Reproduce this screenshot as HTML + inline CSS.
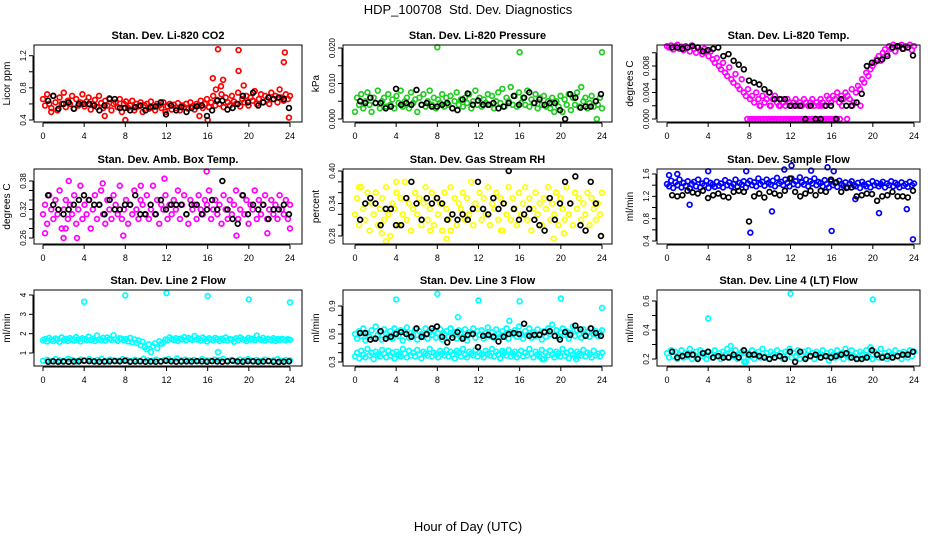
<!DOCTYPE html>
<html><head><meta charset="utf-8">
<style>
html,body{margin:0;padding:0;background:#fff;}
svg{display:block;font-family:"Liberation Sans",Arial,sans-serif;}
</style></head>
<body>
<svg id="chart" width="936" height="540" viewBox="0 0 936 540">
<text x="468" y="14" text-anchor="middle" font-size="13">HDP_100708&#160; Std. Dev. Diagnostics</text>
<text x="468" y="531" text-anchor="middle" font-size="13">Hour of Day (UTC)</text>
</svg>
<script>
// ---- data ----
const xTicks = [0,4,8,12,16,20,24];
const co2Color = [0.66,0.58,0.72,0.6,0.55,0.7,0.62,0.52,0.68,0.6,0.74,0.56,0.64,0.6,0.7,0.54,0.66,0.58,0.62,0.72,0.57,0.63,0.68,0.53,0.6,0.65,0.56,0.7,0.61,0.55,0.64,0.58,0.67,0.52,0.6,0.62,0.56,0.66,0.5,0.6,0.63,0.55,0.58,0.64,0.52,0.6,0.57,0.62,0.5,0.58,0.6,0.54,0.63,0.56,0.52,0.6,0.58,0.55,0.62,0.5,0.57,0.6,0.53,0.59,0.55,0.61,0.52,0.58,0.56,0.6,0.54,0.62,0.57,0.53,0.6,0.58,0.64,0.55,0.6,0.66,0.56,0.62,0.7,0.58,0.65,0.6,0.72,0.56,0.68,0.62,0.58,0.7,0.63,0.6,0.74,0.57,0.66,0.62,0.7,0.58,0.68,0.64,0.76,0.6,0.66,0.72,0.62,0.7,0.65,0.6,0.74,0.66,0.7,0.62,0.78,0.68,0.64,0.72,0.66,0.7];
const co2Out = [[16.5,0.92],[16.8,0.78],[17,1.28],[17.5,0.9],[17.3,0.82],[19,1.27],[19,1.01],[19.5,0.83],[23.5,1.24],[23.4,1.12],[23.9,0.43],[16,0.4],[8,0.4],[6,0.45],[15.2,0.45],[0.8,0.5]];
const co2Black = [0.64,0.7,0.54,0.6,0.62,0.54,0.6,0.6,0.6,0.58,0.52,0.58,0.66,0.66,0.55,0.55,0.52,0.56,0.58,0.52,0.56,0.57,0.62,0.47,0.58,0.52,0.56,0.5,0.55,0.57,0.58,0.45,0.52,0.64,0.64,0.53,0.55,0.6,0.7,0.62,0.74,0.58,0.62,0.68,0.66,0.68,0.66,0.55];

const presColor = [0.002,0.006,0.004,0.007,0.003,0.005,0.0075,0.004,0.002,0.006,0.0045,0.008,0.003,0.005,0.006,0.0035,0.007,0.004,0.0055,0.003,0.0065,0.0045,0.008,0.0035,0.005,0.006,0.003,0.0075,0.0045,0.0055,0.002,0.006,0.004,0.007,0.0035,0.005,0.008,0.004,0.006,0.003,0.0055,0.0045,0.007,0.0035,0.006,0.004,0.0065,0.003,0.005,0.0075,0.004,0.0055,0.0035,0.006,0.0045,0.007,0.003,0.005,0.008,0.004,0.006,0.0035,0.0055,0.0045,0.007,0.004,0.0065,0.003,0.005,0.0075,0.0045,0.0085,0.0035,0.006,0.005,0.009,0.004,0.0065,0.0035,0.0075,0.0045,0.006,0.004,0.008,0.0035,0.0055,0.0045,0.007,0.003,0.006,0.004,0.0065,0.0035,0.005,0.003,0.006,0.002,0.005,0.0035,0.0065,0.002,0.0055,0.004,0.007,0.0025,0.006,0.004,0.0075,0.0035,0.009,0.005,0.006,0.003,0.0045,0.0065,0.0035,0.005,0.004,0.006,0.003];
const presOut = [[8,0.0202],[16,0.0188],[24,0.0188],[23.5,0]];
const presBlack = [0.005,0.0045,0.006,0.0045,0.0045,0.003,0.0035,0.0085,0.004,0.0045,0.004,0.0082,0.004,0.0045,0.0035,0.0035,0.004,0.0045,0.003,0.0025,0.0055,0.0072,0.004,0.0052,0.004,0.004,0.0045,0.003,0.0035,0.0045,0.0065,0.004,0.006,0.0075,0.0045,0.0055,0.004,0.0045,0.0045,0.0025,0,0.007,0.006,0.0032,0.0035,0.0035,0.005,0.007];

const tempColor = [0.011,0.0108,0.0111,0.0105,0.011,0.0112,0.0106,0.0109,0.0104,0.011,0.0108,0.0102,0.0111,0.0106,0.01,0.0108,0.0104,0.0098,0.0106,0.0102,
0.0095,0.0102,0.009,0.0085,0.0092,0.008,0.0075,0.0085,0.007,0.0065,0.0078,0.006,0.0055,0.0068,0.005,0.0045,0.006,0.004,0.0035,0.0045,
0.003,0.0035,0.0025,0.004,0.003,0.002,0.0035,0.0025,0.003,0.004,0.002,0.003,0.0035,0.0025,0.002,0.003,0.0025,0.002,0.003,0.0025,
0.002,0.0025,0.003,0.002,0.0025,0.002,0.003,0.0025,0.002,0.0025,0.003,0.002,0.0025,0.002,0.003,0.0025,0.002,0.0035,0.003,0.0025,
0.0035,0.003,0.004,0.0025,0.0035,0.003,0.004,0.0035,0.003,0.0045,0.0025,0.004,0.005,0.0045,0.006,0.0055,0.007,0.0065,0.0075,0.008,
0.0085,0.009,0.0095,0.0088,0.01,0.0105,0.0098,0.011,0.0106,0.0112,0.0102,0.0108,0.011,0.0112,0.0106,0.011,0.0108,0.0112,0.0104,0.011];
const tempOut = [[7.8,0],[8.1,0],[8.4,0],[8.7,0],[9,0],[9.3,0],[9.6,0],[9.9,0],[10.2,0],[10.5,0],[10.8,0],[11.1,0],[11.4,0],[11.7,0],[12,0],[12.3,0],[12.6,0],[12.9,0],[13.2,0],[13.5,0],[13.8,0],[14.1,0],[14.4,0],[14.7,0],[15,0],[15.3,0],[15.6,0],[15.9,0],[16.2,0],[16.5,0],[16.8,0],[17.5,0],[9,0.002],[10,0.002],[11,0.002],[13,0.002],[14,0.002],[15,0.002],[17,0.002],[18,0.002],[18.8,0.002]];
const tempBlack = [0.0108,0.0108,0.0106,0.0108,0.011,0.0108,0.0102,0.0104,0.0106,0.0108,0.0095,0.0098,0.0088,0.0082,0.0075,0.0058,0.0055,0.0052,0.0045,0.004,0.003,0.003,0.003,0.002,0.002,0.002,0,0.002,0,0,0.002,0.002,0,0.003,0.002,0.002,0.0025,0.0038,0.008,0.0085,0.0088,0.009,0.0095,0.0108,0.011,0.0106,0.0108,0.0096];

const ambColor = [0.31,0.33,0.29,0.35,0.32,0.3,0.34,0.31,0.36,0.28,0.32,0.34,0.3,0.33,0.31,0.35,0.29,0.32,0.37,0.3,0.33,0.31,0.34,0.28,0.32,0.35,0.3,0.33,0.36,0.31,0.29,0.34,0.32,0.3,0.35,0.33,0.31,0.37,0.3,0.32,0.34,0.29,0.33,0.31,0.36,0.32,0.3,0.34,0.33,0.31,0.35,0.3,0.32,0.37,0.31,0.34,0.29,0.33,0.32,0.35,0.3,0.33,0.31,0.34,0.32,0.36,0.3,0.33,0.35,0.31,0.29,0.34,0.32,0.33,0.3,0.35,0.32,0.31,0.34,0.33,0.36,0.3,0.32,0.34,0.31,0.33,0.29,0.35,0.32,0.3,0.34,0.31,0.33,0.36,0.3,0.32,0.35,0.31,0.34,0.29,0.33,0.32,0.36,0.3,0.34,0.31,0.33,0.35,0.3,0.32,0.34,0.31,0.33,0.3,0.35,0.32,0.31,0.34,0.3,0.33];
const ambOut = [[0.2,0.27],[2,0.26],[2.5,0.38],[3.3,0.26],[5.8,0.375],[9.5,0.37],[11.8,0.385],[15.9,0.4],[18.8,0.265],[21.8,0.27],[24,0.28],[7.8,0.265],[2.2,0.28]];
const ambBlack = [0.35,0.33,0.32,0.31,0.32,0.33,0.34,0.35,0.34,0.33,0.33,0.31,0.34,0.32,0.32,0.33,0.33,0.35,0.31,0.31,0.33,0.31,0.34,0.32,0.33,0.33,0.33,0.31,0.33,0.33,0.31,0.32,0.34,0.32,0.38,0.32,0.3,0.29,0.35,0.31,0.33,0.32,0.33,0.3,0.32,0.32,0.33,0.31];

const rhColor = [0.32,0.35,0.3,0.37,0.33,0.31,0.36,0.29,0.34,0.32,0.36,0.3,0.33,0.35,0.31,0.37,0.32,0.28,0.34,0.33,0.36,0.3,0.35,0.32,0.38,0.31,0.34,0.29,0.33,0.36,0.32,0.35,0.3,0.34,0.37,0.31,0.33,0.36,0.3,0.35,0.32,0.34,0.29,0.36,0.33,0.31,0.37,0.32,0.35,0.3,0.34,0.33,0.36,0.31,0.35,0.32,0.38,0.3,0.34,0.33,0.36,0.31,0.35,0.32,0.37,0.3,0.34,0.33,0.36,0.31,0.35,0.29,0.34,0.32,0.37,0.31,0.35,0.33,0.3,0.36,0.32,0.34,0.37,0.31,0.35,0.29,0.33,0.36,0.32,0.34,0.3,0.35,0.33,0.37,0.31,0.34,0.32,0.36,0.3,0.35,0.33,0.31,0.37,0.32,0.34,0.3,0.36,0.33,0.35,0.31,0.34,0.32,0.36,0.3,0.35,0.33,0.31,0.34,0.32,0.36];
const rhOut = [[0.4,0.37],[2.6,0.285],[3,0.27],[4,0.38],[7.3,0.29],[8.9,0.275],[9.3,0.29],[14.2,0.29],[19.3,0.275],[23.9,0.28],[20.3,0.285]];
const rhBlack = [0.31,0.34,0.35,0.34,0.3,0.33,0.33,0.3,0.3,0.35,0.38,0.34,0.31,0.35,0.34,0.35,0.34,0.31,0.32,0.31,0.32,0.31,0.33,0.38,0.33,0.32,0.35,0.33,0.34,0.4,0.33,0.31,0.32,0.33,0.31,0.3,0.29,0.35,0.31,0.34,0.38,0.34,0.39,0.3,0.29,0.38,0.34,0.28];

const flowColor = [1.42,1.38,1.48,1.35,1.45,1.4,1.5,1.36,1.44,1.39,1.47,1.34,1.42,1.46,1.38,1.5,1.36,1.43,1.4,1.48,1.35,1.44,1.41,1.37,1.46,1.39,1.43,1.36,1.49,1.4,1.45,1.38,1.42,1.5,1.37,1.44,1.41,1.47,1.36,1.43,1.48,1.4,1.45,1.38,1.52,1.42,1.46,1.39,1.5,1.44,1.41,1.48,1.38,1.53,1.43,1.46,1.4,1.5,1.44,1.38,1.52,1.42,1.47,1.4,1.54,1.45,1.41,1.5,1.38,1.47,1.43,1.52,1.4,1.46,1.44,1.38,1.49,1.42,1.36,1.47,1.4,1.44,1.37,1.48,1.42,1.39,1.45,1.36,1.43,1.47,1.4,1.38,1.44,1.35,1.46,1.41,1.38,1.43,1.36,1.47,1.4,1.44,1.38,1.42,1.46,1.36,1.43,1.4,1.47,1.38,1.44,1.41,1.36,1.45,1.39,1.42,1.37,1.46,1.4,1.43];
const flowOut = [[0.2,1.58],[1,1.6],[2.2,1.05],[4,1.65],[7.7,1.65],[8.1,0.55],[10.2,0.93],[11.4,1.68],[12.1,1.75],[15.6,1.72],[16,0.58],[16.2,1.65],[20.6,0.9],[23.3,0.97],[23.9,0.43],[18.3,1.15],[14,1.66]];
const flowBlack = [1.22,1.2,1.22,1.3,1.27,1.25,1.3,1.17,1.22,1.25,1.2,1.18,1.28,1.3,1.28,0.75,1.2,1.25,1.18,1.28,1.25,1.22,1.3,1.52,1.28,1.2,1.25,1.3,1.22,1.3,1.28,1.5,1.45,1.28,1.35,1.36,1.2,1.22,1.25,1.24,1.12,1.2,1.22,1.28,1.2,1.2,1.18,1.3];

const l2Upper = [1.65,1.72,1.6,1.78,1.68,1.62,1.75,1.7,1.58,1.8,1.66,1.73,1.62,1.77,1.69,1.64,1.82,1.7,1.6,1.76,1.72,1.66,1.85,1.68,1.74,1.62,1.9,1.7,1.66,1.78,1.64,1.8,1.72,1.68,1.92,1.7,1.62,1.76,1.74,1.66,1.72,1.6,1.78,1.55,1.7,1.52,1.65,1.4,1.58,1.3,1.2,1.45,1.05,1.35,1.5,1.25,1.6,1.48,1.55,1.7,1.66,1.8,1.72,1.68,1.76,1.62,1.74,1.7,1.82,1.66,1.78,1.72,1.68,1.88,1.7,1.75,1.64,1.8,1.72,1.6,1.76,1.7,1.66,1.78,1.72,1.62,1.74,1.68,1.8,1.64,1.72,1.7,1.58,1.76,1.66,1.8,1.72,1.68,1.62,1.78,1.7,1.74,1.66,1.9,1.72,1.68,1.78,1.64,1.74,1.7,1.66,1.76,1.62,1.72,1.68,1.74,1.7,1.66,1.72,1.68];
const l2Lower = [0.6,0.65,0.58,0.68,0.62,0.6,0.7,0.63,0.58,0.66,0.61,0.68,0.6,0.64,0.7,0.58,0.66,0.62,0.6,0.68,0.63,0.58,0.65,0.6,0.7,0.62,0.6,0.66,0.58,0.64,0.68,0.6,0.72,0.62,0.66,0.6,0.64,0.58,0.68,0.62,0.6,0.66,0.63,0.7,0.6,0.64,0.58,0.66,0.62,0.68,0.6,0.64,0.58,0.66,0.6,0.62,0.68,0.6,0.64,0.62];
const l2Out = [[4,3.65],[8,3.98],[12,4.1],[16,3.95],[17,1.05],[20,3.77],[24,3.62]];
const l2Black = [0.55,0.57,0.55,0.56,0.55,0.56,0.57,0.6,0.58,0.56,0.55,0.56,0.57,0.58,0.57,0.6,0.55,0.56,0.57,0.55,0.56,0.55,0.56,0.6,0.57,0.55,0.56,0.57,0.56,0.58,0.57,0.55,0.58,0.56,0.55,0.57,0.6,0.56,0.55,0.58,0.57,0.55,0.56,0.58,0.55,0.54,0.55,0.57];

const l3Upper = [0.6,0.55,0.63,0.58,0.66,0.53,0.61,0.57,0.64,0.55,0.68,0.59,0.62,0.54,0.65,0.6,0.57,0.63,0.55,0.66,0.6,0.58,0.64,0.53,0.62,0.67,0.56,0.61,0.59,0.65,0.54,0.63,0.6,0.57,0.66,0.55,0.62,0.59,0.64,0.56,0.61,0.65,0.54,0.6,0.63,0.57,0.66,0.59,0.62,0.55,0.64,0.6,0.57,0.65,0.53,0.62,0.6,0.66,0.56,0.63,0.59,0.64,0.55,0.61,0.67,0.58,0.62,0.56,0.65,0.6,0.57,0.63,0.59,0.66,0.55,0.62,0.6,0.64,0.57,0.68,0.6,0.55,0.63,0.59,0.66,0.56,0.62,0.58,0.65,0.6,0.54,0.63,0.57,0.66,0.6,0.7,0.58,0.64,0.56,0.62,0.66,0.59,0.63,0.55,0.61,0.68,0.58,0.64,0.6,0.56,0.65,0.59,0.62,0.57,0.66,0.6,0.63,0.58,0.61,0.64];
const l3Lower = [0.36,0.4,0.34,0.42,0.38,0.35,0.44,0.37,0.4,0.33,0.41,0.38,0.36,0.43,0.39,0.35,0.42,0.37,0.4,0.34,0.41,0.38,0.36,0.44,0.39,0.35,0.42,0.37,0.4,0.36,0.43,0.38,0.34,0.41,0.39,0.37,0.44,0.36,0.4,0.38,0.35,0.42,0.39,0.37,0.43,0.36,0.41,0.38,0.34,0.42,0.4,0.36,0.44,0.38,0.35,0.41,0.39,0.37,0.43,0.36,0.4,0.38,0.35,0.42,0.39,0.37,0.44,0.36,0.41,0.38,0.34,0.42,0.4,0.37,0.43,0.36,0.39,0.41,0.35,0.38,0.42,0.36,0.4,0.37,0.44,0.39,0.35,0.41,0.38,0.36,0.43,0.33,0.4,0.37,0.42,0.38,0.35,0.41,0.39,0.36,0.44,0.37,0.4,0.34,0.42,0.38,0.36,0.41,0.39,0.37,0.43,0.36,0.4,0.38,0.35,0.42,0.37,0.39,0.36,0.4];
const l3Out = [[4,0.97],[8,1.03],[10,0.78],[12,0.96],[15,0.74],[16,0.95],[20,0.98],[24,0.88],[18.2,0.33],[21.5,0.33]];
const l3Black = [0.61,0.61,0.54,0.55,0.63,0.55,0.57,0.6,0.62,0.6,0.57,0.66,0.57,0.6,0.66,0.68,0.57,0.51,0.56,0.62,0.55,0.59,0.6,0.46,0.58,0.59,0.57,0.52,0.57,0.6,0.61,0.6,0.71,0.58,0.59,0.59,0.62,0.63,0.58,0.54,0.62,0.59,0.69,0.65,0.58,0.66,0.61,0.58];

const l4Color = [0.24,0.21,0.26,0.22,0.25,0.2,0.23,0.26,0.21,0.24,0.22,0.27,0.2,0.23,0.25,0.21,0.26,0.22,0.24,0.2,0.25,0.23,0.21,0.26,0.22,0.24,0.2,0.25,0.23,0.27,0.21,0.24,0.22,0.26,0.2,0.23,0.25,0.21,0.18,0.24,0.22,0.26,0.2,0.23,0.25,0.21,0.27,0.22,0.24,0.2,0.25,0.23,0.21,0.26,0.22,0.24,0.2,0.25,0.23,0.27,0.21,0.24,0.22,0.26,0.2,0.23,0.25,0.21,0.26,0.22,0.24,0.2,0.25,0.23,0.21,0.26,0.22,0.24,0.19,0.25,0.23,0.21,0.26,0.22,0.24,0.2,0.27,0.23,0.21,0.26,0.22,0.24,0.2,0.25,0.23,0.21,0.26,0.22,0.28,0.2,0.25,0.23,0.21,0.27,0.22,0.24,0.2,0.25,0.23,0.21,0.26,0.22,0.24,0.2,0.25,0.23,0.21,0.26,0.22,0.25];
const l4Out = [[4,0.48],[6.2,0.29],[12,0.65],[20,0.61],[7.5,0.18]];
const l4Black = [0.25,0.21,0.22,0.23,0.23,0.2,0.24,0.25,0.21,0.22,0.21,0.21,0.23,0.21,0.26,0.23,0.23,0.22,0.21,0.2,0.21,0.22,0.2,0.25,0.18,0.25,0.2,0.22,0.23,0.21,0.22,0.21,0.22,0.23,0.24,0.21,0.2,0.2,0.21,0.26,0.23,0.21,0.22,0.21,0.22,0.23,0.23,0.25];

const co2Ticks=[0.4,0.6,0.8,1.0,1.2], co2Labels=["0.4","","0.8","","1.2"];
const presTicks=[0,0.005,0.01,0.015,0.02], presLabels=["0.000","","0.010","","0.020"];
const tempTicks=[0,0.002,0.004,0.006,0.008,0.010], tempLabels=["0.000","","0.004","","0.008",""];
const ambTicks=[0.26,0.28,0.30,0.32,0.34,0.36,0.38], ambLabels=["0.26","","","0.32","","","0.38"];
const rhTicks=[0.28,0.30,0.32,0.34,0.36,0.38,0.40], rhLabels=["0.28","","","0.34","","","0.40"];
const flowTicks=[0.4,0.6,0.8,1.0,1.2,1.4,1.6], flowLabels=["0.4","","0.8","","1.2","","1.6"];
const l2Ticks=[1,2,3,4], l2Labels=["1","2","3","4"];
const l3Ticks=[0.3,0.4,0.5,0.6,0.7,0.8,0.9], l3Labels=["0.3","","","0.6","","","0.9"];
const l4Ticks=[0.2,0.3,0.4,0.5,0.6], l4Labels=["0.2","","0.4","","0.6"];

// ---- layout ----
const NS="http://www.w3.org/2000/svg";
const svg=document.getElementById('chart');
const cols=[{l:34,r:302,x0:43,x24:290},{l:343,r:612,x0:355,x24:602},{l:657,r:920,x0:667,x24:914}];
const rows=[{t:45,b:122},{t:169,b:244},{t:290,b:366}];
function mk(tag,attrs,parent){const e=document.createElementNS(NS,tag);for(const k in attrs)e.setAttribute(k,attrs[k]);(parent||svg).appendChild(e);return e;}

const panels=[
 {key:'co2',title:'Stan. Dev. Li-820 CO2',ylab:'Licor ppm',c:0,r:0,v1:0.4,p1:120,v2:1.2,p2:55.7,ticks:co2Ticks,labels:co2Labels,color:'#ff0000',series:[co2Color],out:co2Out,black:co2Black},
 {key:'pressure',title:'Stan. Dev. Li-820 Pressure',ylab:'kPa',c:1,r:0,v1:0,p1:119,v2:0.02,p2:48,ticks:presTicks,labels:presLabels,color:'#22cc22',series:[presColor],out:presOut,black:presBlack},
 {key:'temp',title:'Stan. Dev. Li-820 Temp.',ylab:'degrees C',c:2,r:0,v1:0,p1:119,v2:0.008,p2:66,ticks:tempTicks,labels:tempLabels,color:'#ff00ff',series:[tempColor],out:tempOut,black:tempBlack},
 {key:'amb',title:'Stan. Dev. Amb. Box Temp.',ylab:'degrees C',c:0,r:1,v1:0.26,p1:238,v2:0.38,p2:181,ticks:ambTicks,labels:ambLabels,color:'#ff00ff',series:[ambColor],out:ambOut,black:ambBlack},
 {key:'rh',title:'Stan. Dev. Gas Stream RH',ylab:'percent',c:1,r:1,v1:0.28,p1:236,v2:0.40,p2:171,ticks:rhTicks,labels:rhLabels,color:'#ffff00',series:[rhColor],out:rhOut,black:rhBlack},
 {key:'sample-flow',title:'Stan. Dev. Sample Flow',ylab:'ml/min',c:2,r:1,v1:0.4,p1:241,v2:1.6,p2:174,ticks:flowTicks,labels:flowLabels,color:'#0000ff',series:[flowColor],out:flowOut,black:flowBlack},
 {key:'line2',title:'Stan. Dev. Line 2 Flow',ylab:'ml/min',c:0,r:2,v1:1,p1:353,v2:4,p2:295,ticks:l2Ticks,labels:l2Labels,color:'#00ffff',series:[l2Upper,l2Lower],out:l2Out,black:l2Black},
 {key:'line3',title:'Stan. Dev. Line 3 Flow',ylab:'ml/min',c:1,r:2,v1:0.3,p1:362,v2:0.9,p2:306,ticks:l3Ticks,labels:l3Labels,color:'#00ffff',series:[l3Upper,l3Lower],out:l3Out,black:l3Black},
 {key:'line4',title:'Stan. Dev. Line 4 (LT) Flow',ylab:'ml/min',c:2,r:2,v1:0.2,p1:359,v2:0.6,p2:301,ticks:l4Ticks,labels:l4Labels,color:'#00ffff',series:[l4Color],out:l4Out,black:l4Black}
];

panels.forEach(P=>{
 const C=cols[P.c],R=rows[P.r];
 const xs=h=>C.x0+(C.x24-C.x0)*h/24;
 const ys=v=>P.p1+(P.p2-P.p1)*(v-P.v1)/(P.v2-P.v1);
 const g=mk('g',{});
 
 
 const cx=(C.l+C.r)/2;
 const t=mk('text',{x:cx,y:R.t-6,'text-anchor':'middle','font-size':'11','font-weight':'bold'},g);
 t.textContent=P.title;
 
 
 const yl=mk('text',{x:0,y:0,'text-anchor':'middle','font-size':'10',transform:`translate(${C.l-24},${(R.t+R.b)/2}) rotate(-90)`},g);
 yl.textContent=P.ylab;
 
 
 const pts=mk('g',{fill:'none','stroke-width':'1.7'},g);
 
 
 P.series.forEach(arr=>{
  arr.forEach((v,i)=>{
   const h=24*i/(arr.length-1);
   const c=mk('circle',{cx:xs(h),cy:ys(v),r:2.4,stroke:P.color},pts);
   
   
  });
 });
 P.out.forEach(o=>{
  const c=mk('circle',{cx:xs(o[0]),cy:ys(o[1]),r:2.4,stroke:P.color},pts);
  
  
 });
 P.black.forEach((v,i)=>{
  const h=0.5+23.4*i/(P.black.length-1);
  const c=mk('circle',{cx:xs(h),cy:ys(v),r:2.4,stroke:'#000'},pts);
  
  
 });
 const box=mk('rect',{x:C.l,y:R.t,width:C.r-C.l,height:R.b-R.t,fill:'none',stroke:'#000','stroke-width':'1'},g);
 
 
 const xa=mk('g',{stroke:'#000','stroke-width':'1'},g);
 
 
 mk('line',{x1:xs(0),x2:xs(24),y1:R.b+1,y2:R.b+1},xa);
 xTicks.forEach(h=>{
  mk('line',{x1:xs(h),x2:xs(h),y1:R.b+1,y2:R.b+5},xa);
  const tl=mk('text',{x:xs(h),y:R.b+17,'text-anchor':'middle','font-size':'9',stroke:'none',fill:'#000'},xa);
  tl.textContent=String(h);
  
  
 });
 const ya=mk('g',{stroke:'#000','stroke-width':'1'},g);
 
 
 mk('line',{x1:C.l-1,x2:C.l-1,y1:ys(P.ticks[0]),y2:ys(P.ticks[P.ticks.length-1])},ya);
 P.ticks.forEach((v,i)=>{
  const y=ys(v);
  mk('line',{x1:C.l-1,x2:C.l-5,y1:y,y2:y},ya);
  if(P.labels[i]){
   const tl=mk('text',{x:0,y:0,'text-anchor':'middle','font-size':'8',stroke:'none',fill:'#000',transform:`translate(${C.l-8},${y}) rotate(-90)`},ya);
   tl.textContent=P.labels[i];
   
   
  }
 });
});
</script>
</body></html>
